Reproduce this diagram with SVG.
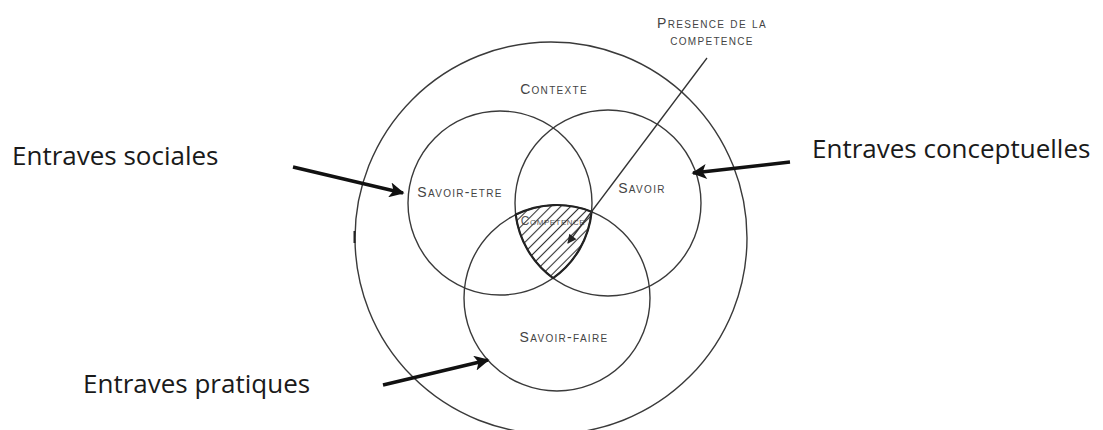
<svg xmlns="http://www.w3.org/2000/svg" width="1103" height="430" viewBox="0 0 1103 430">
<style>
.c{fill:none;stroke:#3a3a3a;stroke-width:1.4}
.sc{font-family:"Liberation Sans",Arial,sans-serif;font-size:14px;font-variant:small-caps;letter-spacing:1.3px;fill:#444;text-anchor:middle}
.big{font-family:"Open Sans",sans-serif;font-size:26px;fill:#1a1a1a}
.arr{stroke:#111;stroke-width:3.4;fill:none}
</style>
<defs>
<marker id="ah" viewBox="0 0 10 10" refX="9" refY="5" markerWidth="20" markerHeight="15" markerUnits="userSpaceOnUse" orient="auto">
<path d="M0,0 L10,5 L0,10 L2.5,5 Z" fill="#111"/>
</marker>
<marker id="sm" viewBox="0 0 10 10" refX="9" refY="5" markerWidth="11" markerHeight="9" markerUnits="userSpaceOnUse" orient="auto">
<path d="M0,0 L10,5 L0,10 Z" fill="#222"/>
</marker>
<pattern id="hatch" patternUnits="userSpaceOnUse" width="10" height="7" patternTransform="rotate(-45)">
<line x1="0" y1="3.5" x2="10" y2="3.5" stroke="#333" stroke-width="1.1"/>
</pattern>
</defs>
<g id="contexte">
<circle class="c" cx="551" cy="238" r="196"/>
<line x1="354.5" y1="231" x2="354.5" y2="243" stroke="#222" stroke-width="2"/>
<text class="sc" x="554" y="94">Contexte</text>
</g>
<g id="savoir-etre">
<circle class="c" cx="500" cy="203" r="92"/>
<text class="sc" x="460" y="197">Savoir-etre</text>
</g>
<g id="savoir">
<circle class="c" cx="608" cy="203" r="93"/>
<text class="sc" x="642" y="193">Savoir</text>
</g>
<g id="savoir-faire">
<circle class="c" cx="557" cy="298" r="93"/>
<text class="sc" x="564" y="342">Savoir-faire</text>
</g>
<g id="competence">
<text class="sc" x="553" y="225" style="font-size:12px;letter-spacing:0.5px;fill:#555">Competence</text>
<path d="M515.7,214.6 A93,93 0 0 1 591.6,211.7 A92,92 0 0 1 553.1,278.1 A93,93 0 0 1 515.7,214.6 Z" fill="url(#hatch)" stroke="#222" stroke-width="2.2"/>
</g>
<g id="presence">
<text class="sc" x="712" y="28">Presence de la</text>
<text class="sc" x="712" y="45">competence</text>
</g>
<g id="labels">
<text class="big" x="12" y="165">Entraves sociales</text>
<text class="big" x="812" y="158">Entraves conceptuelles</text>
<text class="big" x="83" y="393">Entraves pratiques</text>
</g>
<g id="connectors">
<line x1="707" y1="58" x2="568" y2="243" stroke="#333" stroke-width="1.3" marker-end="url(#sm)"/>
<line class="arr" x1="293" y1="167" x2="403" y2="193" marker-end="url(#ah)"/>
<line class="arr" x1="790" y1="162" x2="693" y2="173" marker-end="url(#ah)"/>
<line class="arr" x1="383" y1="385" x2="488" y2="360" marker-end="url(#ah)"/>
</g>
</svg>
